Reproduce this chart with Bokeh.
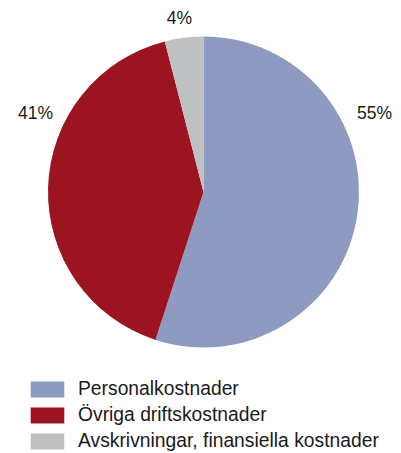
import math
from bokeh.plotting import figure
from bokeh.models import Range1d, ColumnDataSource, Legend, LegendItem
from bokeh.core.properties import value
from bokeh.embed import file_html
from bokeh.resources import INLINE

# Data
categories = ["Personalkostnader", "Övriga driftskostnader", "Avskrivningar, finansiella kostnader"]
shares = [55, 41, 4]
pct_labels = ["55%", "41%", "4%"]
colors = ["#8e9ac0", "#9c1322", "#bfc0c2"]

# Layout (pixel-like data units, pie centre at origin)
W, H = 401, 453
cx_page, cy_page = 203, 191.5
radius = 155.5
label_pos = [(171, 79), (-168, 79), (-24, 174.5)]

p = figure(width=W, height=H, output_backend="svg", toolbar_location=None,
           x_range=Range1d(0 - cx_page, W - cx_page),
           y_range=Range1d(cy_page - H, cy_page),
           min_border=0, outline_line_color=None)
p.axis.visible = False
p.grid.visible = False
p.background_fill_color = "white"

total = sum(shares)
start = math.pi / 2
starts, ends = [], []
for s in shares:
    ang = 2 * math.pi * s / total
    starts.append(start)
    ends.append(start - ang)
    start -= ang

renderers = []
for i in range(3):
    r = p.wedge(x=0, y=0, radius=radius, start_angle=starts[i], end_angle=ends[i],
                direction="clock", fill_color=colors[i], line_color=None)
    renderers.append(r)

lsrc = ColumnDataSource(dict(x=[lp[0] for lp in label_pos], y=[lp[1] for lp in label_pos], t=pct_labels))
p.text(x="x", y="y", text="t", source=lsrc, text_align="center", text_baseline="middle",
       text_font=value("Liberation Sans"), text_font_size="17.5px", text_color="#1a1a1a")

legend = Legend(items=[LegendItem(label=categories[i], renderers=[renderers[i]]) for i in range(3)],
                location=(26, 1), orientation="vertical",
                glyph_width=42, glyph_height=20, label_height=20, spacing=4,
                label_standoff=10, padding=0, margin=0,
                label_text_font="Liberation Sans", label_text_font_size="19.3px",
                label_text_color="#1a1a1a",
                border_line_alpha=0, background_fill_alpha=0)
p.add_layout(legend, "center")

open("out.html", "w").write(file_html(p, INLINE))
